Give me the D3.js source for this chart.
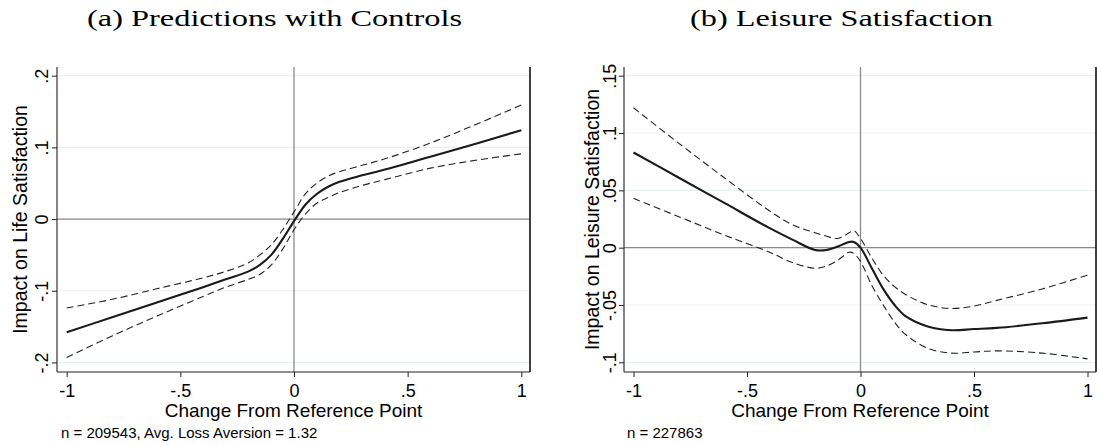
<!DOCTYPE html>
<html><head><meta charset="utf-8">
<script src="https://cdn.jsdelivr.net/npm/d3@7"></script>
<style>body{margin:0;background:#fff}svg{display:block}</style>
</head><body><svg id="c" width="1097" height="445"></svg>
<script>
// ---- data ----
const titles = ["(a) Predictions with Controls", "(b) Leisure Satisfaction"];
const yTitles = ["Impact on Life Satisfaction", "Impact on Leisure Satisfaction"];
const xTitle = "Change From Reference Point";
const notes = ["n = 209543, Avg. Loss Aversion = 1.32", "n = 227863"];
const xTicks = [-1, -0.5, 0, 0.5, 1];
const xTickLabels = ["-1", "-.5", "0", ".5", "1"];
const yTicksA = [-0.2, -0.1, 0, 0.1, 0.2];
const yTickLabelsA = ["-.2", "-.1", "0", ".1", ".2"];
const yTicksB = [-0.1, -0.05, 0, 0.05, 0.1, 0.15];
const yTickLabelsB = ["-.1", "-.05", "0", ".05", ".1", ".15"];

const xA     = [-1, -0.8, -0.6, -0.4, -0.3, -0.2, -0.15, -0.1, -0.05, 0, 0.05, 0.1, 0.15, 0.2, 0.3, 0.4, 0.6, 0.8, 1];
const midA   = [-0.158, -0.137, -0.116, -0.095, -0.084, -0.073, -0.064, -0.050, -0.028, -0.003, 0.020, 0.035, 0.045, 0.052, 0.061, 0.069, 0.087, 0.105, 0.124];
const upA    = [-0.124, -0.112, -0.097, -0.082, -0.073, -0.061, -0.050, -0.036, -0.015, 0.010, 0.035, 0.050, 0.060, 0.066, 0.075, 0.084, 0.106, 0.132, 0.159];
const loA    = [-0.193, -0.163, -0.135, -0.108, -0.095, -0.084, -0.077, -0.064, -0.042, -0.015, 0.007, 0.022, 0.030, 0.037, 0.047, 0.055, 0.071, 0.082, 0.091];

const xB     = [-1, -0.8, -0.6, -0.4, -0.3, -0.2, -0.15, -0.1, -0.05, -0.03, 0, 0.05, 0.1, 0.15, 0.2, 0.3, 0.4, 0.5, 0.6, 0.8, 1];
const midB   = [0.083, 0.061, 0.039, 0.017, 0.007, -0.002, -0.002, 0.001, 0.005, 0.005, 0.000, -0.018, -0.036, -0.050, -0.060, -0.069, -0.072, -0.071, -0.070, -0.066, -0.061];
const upB    = [0.122, 0.091, 0.061, 0.032, 0.020, 0.013, 0.010, 0.008, 0.013, 0.015, 0.008, -0.009, -0.024, -0.034, -0.041, -0.050, -0.053, -0.051, -0.046, -0.036, -0.024];
const loB    = [0.043, 0.027, 0.011, -0.004, -0.013, -0.018, -0.016, -0.011, -0.004, -0.005, -0.012, -0.033, -0.050, -0.065, -0.076, -0.088, -0.092, -0.091, -0.090, -0.092, -0.097];

// ---- drawing ----
const svg = d3.select("#c");
const SANS = "'Liberation Sans', Arial, sans-serif";
const SERIF = "'Liberation Serif', 'Times New Roman', serif";

const panels = [
  {left:57, right:530, top:67, bottom:372, xr:[66.7,521.3], yd:[-0.2,0.2], yr:[362.4,75.7],
   yt:yTicksA, ytl:yTickLabelsA, xs:xA, mid:midA, up:upA, lo:loA,
   title:titles[0], titleX:87, titleW:375, yTitle:yTitles[0], yTitleX:27, yLabOff:9, note:notes[0], noteX:61},
  {left:624, right:1096, top:67, bottom:372, xr:[633.5,1087.5], yd:[-0.1,0.15], yr:[362.3,75.7],
   yt:yTicksB, ytl:yTickLabelsB, xs:xB, mid:midB, up:upB, lo:loB,
   title:titles[1], titleX:690, titleW:303, yTitle:yTitles[1], yTitleX:599, yLabOff:8, note:notes[1], noteX:627}
];

panels.forEach(p => {
  const x = d3.scaleLinear().domain([-1,1]).range(p.xr);
  const y = d3.scaleLinear().domain(p.yd).range(p.yr);
  const g = svg.append("g");

  // gridlines
  g.selectAll(".grid").data(p.yt).join("line")
    .attr("x1", p.left+1).attr("x2", p.right)
    .attr("y1", d=>y(d)).attr("y2", d=>y(d))
    .attr("stroke", "#eaf1f3").attr("stroke-width", 1.2);

  // reference lines
  g.append("line").attr("x1", p.left).attr("x2", p.right).attr("y1", y(0)).attr("y2", y(0))
    .attr("stroke", "#8c8c8c").attr("stroke-width", 1.3);
  g.append("line").attr("x1", x(0)).attr("x2", x(0)).attr("y1", p.top).attr("y2", p.bottom)
    .attr("stroke", "#8c8c8c").attr("stroke-width", 1.3);

  // curves
  const line = (ys) => d3.line().curve(d3.curveCatmullRom.alpha(0.5))
    .x((d,i)=>x(p.xs[i])).y(d=>y(d))(ys);
  g.append("path").attr("d", line(p.up)).attr("fill","none").attr("stroke","#222")
    .attr("stroke-width",1.1).attr("stroke-dasharray","7,4");
  g.append("path").attr("d", line(p.lo)).attr("fill","none").attr("stroke","#222")
    .attr("stroke-width",1.1).attr("stroke-dasharray","7,4");
  g.append("path").attr("d", line(p.mid)).attr("fill","none").attr("stroke","#1a1a1a")
    .attr("stroke-width",2.1);

  // axes
  const ax = d3.axisBottom(x).tickValues(xTicks).tickFormat((d,i)=>xTickLabels[i]).tickSize(5).tickSizeOuter(0);
  const gx = g.append("g").attr("transform", `translate(0,${p.bottom})`).call(ax);
  gx.select(".domain").attr("d", `M${p.left},0H${p.right}`).attr("stroke","#222").attr("stroke-width",1.2);
  gx.selectAll(".tick line").attr("stroke","#222");
  gx.selectAll("text").attr("font-family", SANS).attr("font-size", 18).attr("fill","#000")
    .attr("y", 24.5).attr("dy", 0);

  const ay = d3.axisLeft(y).tickValues(p.yt).tickFormat((d,i)=>p.ytl[i]).tickSize(5).tickSizeOuter(0);
  const gy = g.append("g").attr("transform", `translate(${p.left},0)`).call(ay);
  gy.select(".domain").attr("d", `M0,${p.top}V${p.bottom}`).attr("stroke","#333").attr("stroke-width",1.2);
  gy.selectAll(".tick line").attr("stroke","#222");
  gy.selectAll("text").attr("font-family", SANS).attr("font-size", 18).attr("fill","#000")
    .attr("transform","rotate(-90)").attr("x",0).attr("y",-p.yLabOff).attr("dy",0)
    .attr("text-anchor","middle");

  // right border
  g.append("line").attr("x1",p.right).attr("x2",p.right).attr("y1",p.top).attr("y2",p.bottom)
    .attr("stroke","#111").attr("stroke-width",1.6);

  // axis titles
  g.append("text").attr("x", (p.left+p.right)/2).attr("y", 417)
    .attr("text-anchor","middle").attr("font-family",SANS).attr("font-size",19).text(xTitle);
  g.append("text").attr("transform", `translate(${p.yTitleX},${(p.top+p.bottom)/2}) rotate(-90)`)
    .attr("text-anchor","middle").attr("font-family",SANS).attr("font-size",19.5).text(p.yTitle);

  // note
  g.append("text").attr("x", p.noteX).attr("y", 438).attr("font-family",SANS).attr("font-size",15).text(p.note);

  // panel title
  g.append("text").attr("x", p.titleX).attr("y", 26).attr("font-family",SERIF).attr("font-size",24)
    .attr("textLength", p.titleW).attr("lengthAdjust","spacingAndGlyphs").text(p.title);
});
</script></body></html>
